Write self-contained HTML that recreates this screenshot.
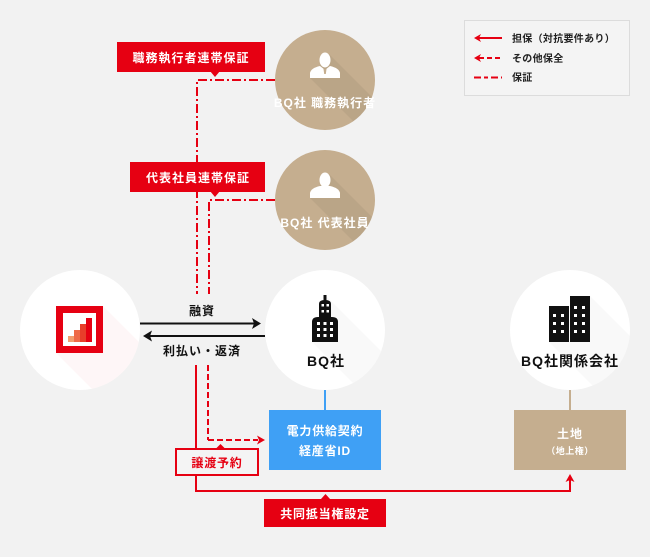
<!DOCTYPE html>
<html><head><meta charset="utf-8">
<style>
html,body{margin:0;padding:0;background:#f2f2f2;}
svg{display:block;}
text{font-family:"Liberation Sans","Noto Sans CJK JP",sans-serif;font-weight:bold;}
</style></head>
<body>
<svg width="650" height="557" viewBox="0 0 650 557" xmlns="http://www.w3.org/2000/svg">
<defs>
<clipPath id="c1"><circle cx="325" cy="80" r="50"/></clipPath>
<clipPath id="c2"><circle cx="325" cy="200" r="50"/></clipPath>
<clipPath id="c3"><circle cx="80" cy="330" r="60"/></clipPath>
<clipPath id="c4"><circle cx="325" cy="330" r="60"/></clipPath>
<clipPath id="c5"><circle cx="570" cy="330" r="60"/></clipPath>
</defs>
<rect width="650" height="557" fill="#f2f2f2"/>

<!-- legend -->
<rect x="464.5" y="20.5" width="165" height="75" fill="#f4f4f4" stroke="#dcdcdc" stroke-width="1"/>
<line x1="478" y1="38" x2="502" y2="38" stroke="#e60012" stroke-width="2"/>
<polygon points="474,38 481,34 479,38 481,42" fill="#e60012"/>
<line x1="479" y1="58" x2="502" y2="58" stroke="#e60012" stroke-width="2" stroke-dasharray="5 3"/>
<polygon points="474,58 481,54 479,58 481,62" fill="#e60012"/>
<line x1="474" y1="77.5" x2="502" y2="77.5" stroke="#e60012" stroke-width="2" stroke-dasharray="7 3 4 3"/>
<text x="512" y="42" font-size="10" fill="#222" letter-spacing="0.3">担保（対抗要件あり）</text>
<text x="512" y="62" font-size="10" fill="#222" letter-spacing="0.3">その他保全</text>
<text x="512" y="81" font-size="10" fill="#222" letter-spacing="0.3">保証</text>

<!-- guarantee dash-dot lines -->
<polyline points="275,80 197,80 197,294" fill="none" stroke="#e60012" stroke-width="2" stroke-dasharray="9 3 2 3"/>
<polyline points="275,200 209,200 209,294" fill="none" stroke="#e60012" stroke-width="2" stroke-dasharray="9 3 2 3"/>

<!-- red labels -->
<rect x="117" y="42" width="148" height="30" fill="#e60012"/>
<polygon points="210,71 220,71 215,77" fill="#e60012"/>
<text x="191" y="62" font-size="12" fill="#fff" text-anchor="middle" letter-spacing="1">職務執行者連帯保証</text>
<rect x="130" y="162" width="135" height="30" fill="#e60012"/>
<polygon points="210,191 220,191 215,197" fill="#e60012"/>
<text x="198" y="182" font-size="12" fill="#fff" text-anchor="middle" letter-spacing="1">代表社員連帯保証</text>

<!-- person circle 1 -->
<circle cx="325" cy="80" r="50" fill="#c5ae8f"/>
<polygon points="310,78 329,54 429,154 410,178" fill="#000" opacity="0.05" clip-path="url(#c1)"/>
<ellipse cx="325" cy="60" rx="5.5" ry="7.5" fill="#fff"/>
<path d="M310,78 L310,73 Q311,68 320,66 L325,70 L330,66 Q339,68 340,73 L340,78 Z" fill="#fff"/>
<path d="M323.5,69 L326.5,69 L325.8,74 L324.2,74 Z" fill="#c5ae8f"/>
<text x="325" y="107" font-size="12" fill="#fff" text-anchor="middle" letter-spacing="1">BQ社 職務執行者</text>

<!-- person circle 2 -->
<circle cx="325" cy="200" r="50" fill="#c5ae8f"/>
<polygon points="310,198 329,174 429,274 410,298" fill="#000" opacity="0.05" clip-path="url(#c2)"/>
<ellipse cx="325" cy="180" rx="5.5" ry="7.5" fill="#fff"/>
<path d="M310,198 L310,193 Q311,188 320,186 L330,186 Q339,188 340,193 L340,198 Z" fill="#fff"/>
<text x="325" y="227" font-size="12" fill="#fff" text-anchor="middle" letter-spacing="1">BQ社 代表社員</text>

<!-- left circle -->
<circle cx="80" cy="330" r="60" fill="#fff"/>
<polygon points="56,353 103,306 203,406 156,453" fill="#e60012" opacity="0.035" clip-path="url(#c3)"/>
<rect x="59.5" y="309.5" width="40" height="40" fill="#fff" stroke="#e60012" stroke-width="7"/>
<rect x="68" y="336" width="6" height="6" fill="#f2a070"/>
<rect x="74" y="330" width="6" height="12" fill="#ee6a48"/>
<rect x="80" y="324" width="6" height="18" fill="#e83e2a"/>
<rect x="86" y="318" width="6" height="24" fill="#e60012"/>

<!-- BQ circle -->
<circle cx="325" cy="330" r="60" fill="#fff"/>
<polygon points="312,342 326,296 426,396 412,442" fill="#000" opacity="0.025" clip-path="url(#c4)"/>
<rect x="323.5" y="295" width="3" height="6" fill="#111"/>
<path d="M319,318 L319,304 Q319,300 325,300 Q331,300 331,304 L331,318 Z" fill="#111"/>
<path d="M312,342 L312,322 Q312,317 318,317 L332,317 Q338,317 338,322 L338,342 Z" fill="#111"/>
<g fill="#fff">
<rect x="321.5" y="304" width="2.5" height="2.5"/><rect x="326.5" y="304" width="2.5" height="2.5"/>
<rect x="321.5" y="310" width="2.5" height="2.5"/><rect x="326.5" y="310" width="2.5" height="2.5"/>
<rect x="317" y="322" width="3" height="3"/><rect x="323.5" y="322" width="3" height="3"/><rect x="330" y="322" width="3" height="3"/>
<rect x="317" y="328" width="3" height="3"/><rect x="323.5" y="328" width="3" height="3"/><rect x="330" y="328" width="3" height="3"/>
<rect x="317" y="334" width="3" height="3"/><rect x="323.5" y="334" width="3" height="3"/><rect x="330" y="334" width="3" height="3"/>
</g>
<text x="326" y="366" font-size="14" fill="#111" text-anchor="middle" letter-spacing="1">BQ社</text>

<!-- related company circle -->
<circle cx="570" cy="330" r="60" fill="#fff"/>
<polygon points="549,342 590,296 690,396 649,442" fill="#000" opacity="0.025" clip-path="url(#c5)"/>
<rect x="549" y="306" width="20" height="36" fill="#111"/>
<rect x="570" y="296" width="20" height="46" fill="#111"/>
<g fill="#fff">
<rect x="553" y="314" width="3" height="3"/><rect x="561" y="314" width="3" height="3"/>
<rect x="553" y="322" width="3" height="3"/><rect x="561" y="322" width="3" height="3"/>
<rect x="553" y="330" width="3" height="3"/><rect x="561" y="330" width="3" height="3"/>
<rect x="574" y="306" width="3" height="3"/><rect x="582" y="306" width="3" height="3"/>
<rect x="574" y="314" width="3" height="3"/><rect x="582" y="314" width="3" height="3"/>
<rect x="574" y="322" width="3" height="3"/><rect x="582" y="322" width="3" height="3"/>
<rect x="574" y="330" width="3" height="3"/><rect x="582" y="330" width="3" height="3"/>
</g>
<text x="570" y="366" font-size="14" fill="#111" text-anchor="middle" letter-spacing="1">BQ社関係会社</text>

<!-- loan arrows -->
<line x1="140" y1="323.5" x2="256" y2="323.5" stroke="#111" stroke-width="2"/>
<polygon points="261,323.5 252,318 254,323.5 252,329" fill="#111"/>
<line x1="148" y1="336" x2="265" y2="336" stroke="#111" stroke-width="2"/>
<polygon points="143,336 152,330.5 150,336 152,341.5" fill="#111"/>
<text x="202" y="315" font-size="12" fill="#111" text-anchor="middle" letter-spacing="1">融資</text>
<text x="202" y="355" font-size="12" fill="#111" text-anchor="middle" letter-spacing="1">利払い・返済</text>

<!-- connectors to boxes -->
<line x1="325" y1="390" x2="325" y2="410" stroke="#3fa0f5" stroke-width="2"/>
<line x1="570" y1="390" x2="570" y2="410" stroke="#c5ae8f" stroke-width="2"/>

<!-- blue box -->
<rect x="269" y="410" width="112" height="60" fill="#3fa0f5"/>
<text x="325" y="435" font-size="12" fill="#fff" text-anchor="middle" letter-spacing="0.8">電力供給契約</text>
<text x="325" y="455" font-size="12" fill="#fff" text-anchor="middle" letter-spacing="0.8">経産省ID</text>

<!-- land box -->
<rect x="514" y="410" width="112" height="60" fill="#c5ae8f"/>
<text x="570" y="438" font-size="12" fill="#fff" text-anchor="middle" letter-spacing="1">土地</text>
<text x="570" y="454" font-size="9" fill="#fff" text-anchor="middle" letter-spacing="0.5">（地上権）</text>

<!-- lower red lines -->
<line x1="208" y1="365" x2="208" y2="440" stroke="#e60012" stroke-width="2" stroke-dasharray="6 3"/>
<line x1="208" y1="440" x2="258" y2="440" stroke="#e60012" stroke-width="2" stroke-dasharray="6 3"/>
<polygon points="265,440 257,435.5 259,440 257,444.5" fill="#e60012"/>
<line x1="196" y1="365" x2="196" y2="448" stroke="#e60012" stroke-width="2"/>
<polyline points="196,476 196,491 570,491 570,480" fill="none" stroke="#e60012" stroke-width="2"/>
<polygon points="570,474 565.5,482 570,480 574.5,482" fill="#e60012"/>

<!-- 譲渡予約 -->
<rect x="176" y="449" width="82" height="26" fill="#f4f4f4" stroke="#e60012" stroke-width="2"/>
<polygon points="216.5,448 224.5,448 220.5,444" fill="#e60012"/>
<text x="217" y="467" font-size="12" fill="#e60012" text-anchor="middle" letter-spacing="0.8">譲渡予約</text>

<!-- 共同抵当権設定 -->
<rect x="264" y="499" width="122" height="28" fill="#e60012"/>
<polygon points="321,499 330,499 325.5,494" fill="#e60012"/>
<text x="325" y="518" font-size="12" fill="#fff" text-anchor="middle" letter-spacing="0.8">共同抵当権設定</text>
</svg>
</body></html>
